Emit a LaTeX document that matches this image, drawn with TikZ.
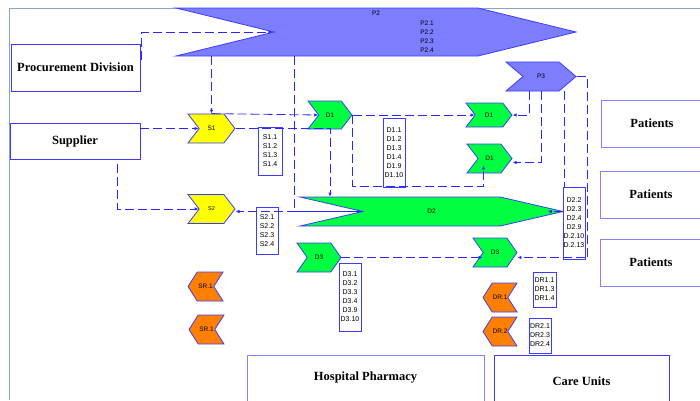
\documentclass[tikz,border=0pt]{standalone}
\usepackage{fontspec}
\setmainfont{Liberation Serif}
\setsansfont{Liberation Sans}
\usetikzlibrary{shapes.symbols,arrows.meta}
\definecolor{framegrey}{RGB}{140,160,210}
\definecolor{boxblue}{RGB}{60,60,255}
\definecolor{paleblue}{RGB}{130,130,255}
\definecolor{lineblue}{RGB}{40,40,255}
\definecolor{pviolet}{RGB}{125,125,255}
\definecolor{dgreen}{RGB}{0,255,64}
\definecolor{syellow}{RGB}{255,255,0}
\definecolor{rorange}{RGB}{255,128,0}
\tikzset{
  unit/.style = {draw=boxblue, line width=0.9pt, inner sep=0pt, font=\bfseries\fontsize{12.5}{14}\selectfont},
  chev/.style = {draw=boxblue, line width=0.8pt, shape=signal, signal from=west, signal to=east, inner sep=0pt, font=\sffamily\fontsize{6.5}{7}\selectfont},
  backchev/.style = {chev, signal from=east, signal to=west, fill=rorange},
  codes/.style = {draw=boxblue, line width=0.7pt, fill=white, inner sep=0pt, align=center, font=\sffamily\fontsize{7}{9}\selectfont},
  flow/.style = {draw=lineblue, line width=0.8pt, dash pattern=on 9pt off 4pt, -{Latex[length=4pt,width=3.5pt]}},
}
\begin{document}
\begin{tikzpicture}[x=1pt,y=-1pt]
  \useasboundingbox (0,0) rectangle (700,400);
  \draw[framegrey, line width=1pt] (9,400) -- (9,8) -- (700,8);

  \node[unit, minimum width=129, minimum height=47] (procurement) at (75.5,67.5) {Procurement Division};
  \node[unit, minimum width=130, minimum height=36] (supplier) at (75,141) {Supplier};
  \node[unit, draw=paleblue, minimum width=102, minimum height=47] (patients1) at (652,123.5) {Patients};
  \node[unit, draw=paleblue, minimum width=102, minimum height=47] (patients2) at (651,194.5) {Patients};
  \node[unit, draw=paleblue, minimum width=102, minimum height=47] (patients3) at (651,262.5) {Patients};
  \node[unit, draw=paleblue, minimum width=237, minimum height=46] (pharmacy) at (365.5,378) {Hospital Pharmacy};
  \node[unit, minimum width=175, minimum height=52] (careunits) at (581.5,381) {Care Units};

  \node[chev, fill=pviolet, minimum width=400, minimum height=48, signal pointer angle=27.5] (p2) at (376,32) {};
  \node[font=\sffamily\fontsize{6.5}{7}\selectfont] (p2name) at (376,13) {P2};
  \node[font=\sffamily\fontsize{6.5}{9}\selectfont, align=center] (p2codes) at (427,36.5) {P2.1\\P2.2\\P2.3\\P2.4};
  \node[chev, fill=pviolet, minimum width=70, minimum height=29, signal pointer angle=81] (p3) at (541,76.5) {P3};
  \node[chev, fill=syellow, minimum width=47, minimum height=29, signal pointer angle=105] (s1) at (211.5,128.5) {S1};
  \node[chev, fill=syellow, minimum width=47, minimum height=29, signal pointer angle=105, font=\sffamily\fontsize{5.5}{6}\selectfont] (s2) at (211.5,209) {S2};
  \node[chev, fill=dgreen, minimum width=44, minimum height=28, signal pointer angle=105] (d1a) at (330,115) {D1};
  \node[chev, fill=dgreen, minimum width=46, minimum height=24, signal pointer angle=105] (d1b) at (489,115) {D1};
  \node[chev, fill=dgreen, minimum width=45, minimum height=29, signal pointer angle=105] (d1c) at (489.5,158.5) {D1};
  \node[chev, fill=dgreen, minimum width=263, minimum height=29, signal pointer angle=26] (d2) at (431.5,211.5) {D2};
  \node[chev, fill=dgreen, minimum width=44, minimum height=29, signal pointer angle=110] (d3a) at (319,257.5) {D3};
  \node[chev, fill=dgreen, minimum width=44, minimum height=29, signal pointer angle=110] (d3b) at (495,252.5) {D3};
  \node[backchev, minimum width=35, minimum height=29, signal pointer angle=115] (sr1a) at (205.5,286.5) {SR.1};
  \node[backchev, minimum width=35, minimum height=29, signal pointer angle=115] (sr1b) at (206.5,329.5) {SR.1};
  \node[backchev, minimum width=34, minimum height=29, signal pointer angle=115] (dr1) at (500,297.5) {DR.1};
  \node[backchev, minimum width=34, minimum height=29, signal pointer angle=115] (dr2) at (500,331.5) {DR.2};

  \node[codes, minimum width=24, minimum height=48] (ls1) at (270,151) {S1.1\\S1.2\\S1.3\\S1.4};
  \node[codes, minimum width=22, minimum height=47] (ls2) at (267,230.5) {S2.1\\S2.2\\S2.3\\S2.4};
  \node[codes, minimum width=22, minimum height=69] (ld1) at (394,152.5) {D1.1\\D1.2\\D1.3\\D1.4\\D1.9\\D1.10};
  \node[codes, minimum width=22, minimum height=72] (ld2) at (574,223) {D2.2\\D2.3\\D2.4\\D2.9\\D.2.10\\D.2.13};
  \node[codes, minimum width=22, minimum height=68] (ld3) at (350,297) {D3.1\\D3.2\\D3.3\\D3.4\\D3.9\\D3.10};
  \node[codes, minimum width=23, minimum height=35] (ldr1) at (544.5,289.5) {DR1.1\\DR1.3\\DR1.4};
  \node[codes, minimum width=22, minimum height=35] (ldr2) at (540,335.5) {DR2.1\\DR2.3\\DR2.4};

  \draw[flow] ([xshift=1,yshift=-16]procurement.north east) |- (p2.west);
  \draw[flow] (p2.south -| s1.north) -- (s1.north);
  \draw[flow] (s1.north) -- (d1a.west);
  \draw[flow] ([xshift=-82]p2.south) |- (d2.west);
  \draw[flow] (d2.west) -- (s2.east |- d2.west);
  \draw[flow] (supplier.east |- s1.west) -- (s1.west);
  \draw[flow] ([xshift=-23,yshift=-5]supplier.south east) |- (s2.west);
  \draw[flow] (s1.east) -| (d1a.south |- d2.north);
  \draw[flow] (d1a.east) -- (d1b.west);
  \draw[flow] (d1a.east) -- ++(0,71) -| ([xshift=-6,yshift=8]d1c.south);
  \draw[flow] ([xshift=-12]p3.south) |- (d1b.east);
  \draw[flow] (p3.south) |- ([yshift=-4]d1c.east);
  \draw[flow, -] ([xshift=23]p3.south) -- ([xshift=23]p3.south |- ld2.north);
  \draw[flow] (p3.east) -- ++(11,0) |- ([yshift=-5]d3b.east);
  \draw[flow] (ld2.west |- d2.east) -- ([xshift=-17]d2.east);
  \draw[flow] (d3a.east) -- (d3b.west |- d3a.east);
\end{tikzpicture}
\end{document}
